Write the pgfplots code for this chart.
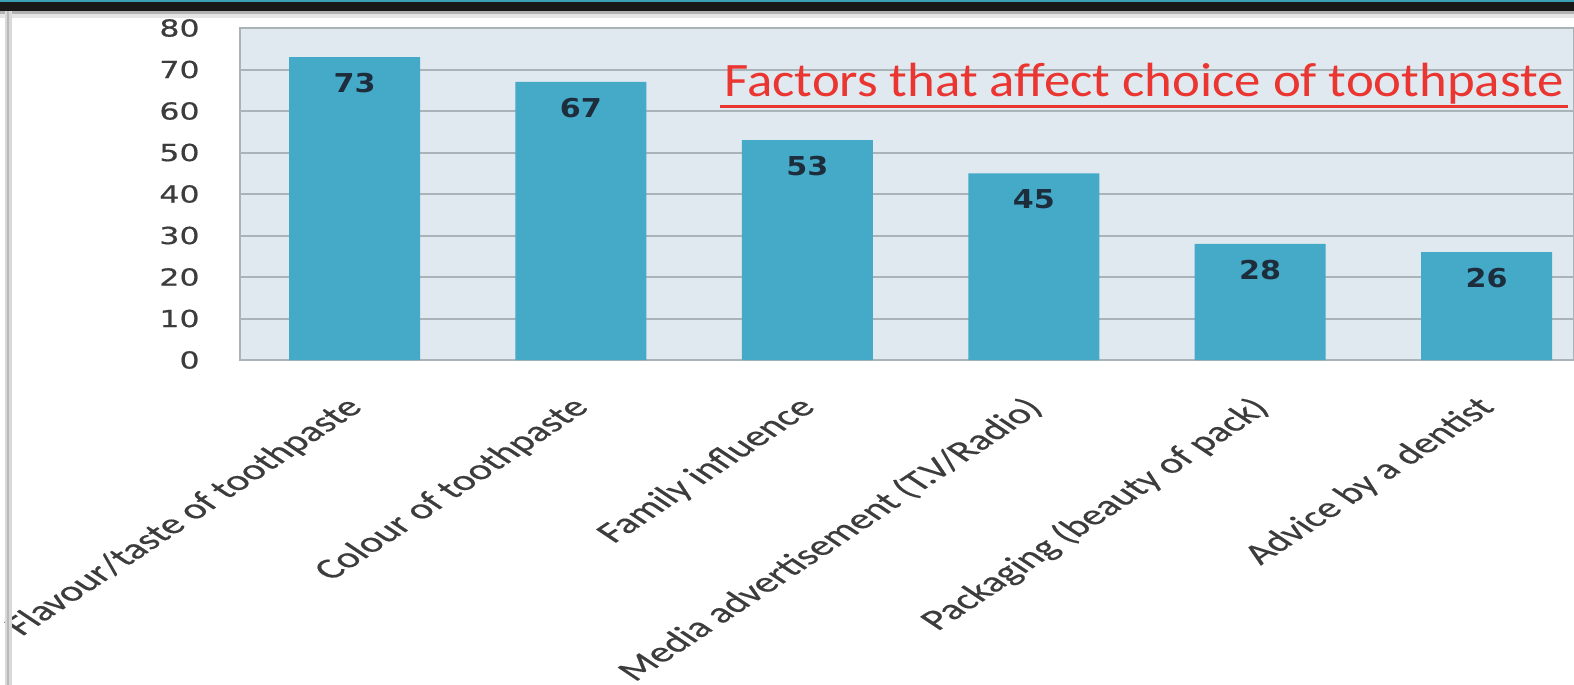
\documentclass[border=0pt]{standalone}
\usepackage{fontspec}
\setmainfont{Carlito}
\newfontfamily\tickfont[FakeStretch=1.35,FakeBold=0.6]{DejaVu Sans}
\newfontfamily\barfont[FakeStretch=1.16]{DejaVu Sans}
\newfontfamily\titlefont[FakeStretch=1.1]{Carlito}
\newfontfamily\labfont[FakeBold=0.4]{Carlito}
\usepackage{pgfplots}
\pgfplotsset{compat=1.18}
\definecolor{bg}{HTML}{DFE9EF}
\definecolor{barc}{HTML}{44AAC8}
\definecolor{gridc}{HTML}{AAB3B8}
\definecolor{titlered}{HTML}{EA3530}
\definecolor{labc}{HTML}{1E2D3C}
\definecolor{tickc}{HTML}{3C3C3C}
\definecolor{topteal}{HTML}{3AA0B5}
\begin{document}
\begin{tikzpicture}[x=1pt,y=1pt]
\clip (-120,-162.5) rectangle (667,180);
\fill[white] (-120,-162.5) rectangle (667,180);
\begin{axis}[at={(0,0)}, anchor=south west, scale only axis,
  width=667pt, height=166pt,
  xmin=-0.506, xmax=5.386, ymin=0, ymax=80,
  axis background/.style={fill=bg},
  axis line style={draw=gridc, line width=1pt},
  ytick={0,10,...,80}, ymajorgrids,
  grid style={draw=gridc, line width=1pt},
  major tick length=0pt,
  /pgf/number format/assume math mode=true,
  yticklabel style={font=\tickfont\fontsize{11.7}{12}\selectfont, text=tickc, anchor=east, inner sep=0pt, xshift=-20pt},
  xtick={0,...,5},
  xticklabels={Flavour/taste of toothpaste, Colour of toothpaste, Family influence, Media advertisement (T.V/Radio), Packaging (beauty of pack), Advice by a dentist},
  xticklabel style={font=\labfont\fontsize{14.5}{15}\selectfont, text=tickc, anchor=north east, inner sep=0pt, xshift=-6pt, yshift=-17pt, cm={1.0607,0.7071,-1.0607,0.7071,(0,0)}},
  ybar, bar width=65.5pt,
  nodes near coords align={below},
  every node near coord/.append style={font=\barfont\bfseries\fontsize{13}{14}\selectfont, text=labc, inner sep=0pt, yshift=-8pt},
]
\addplot[fill=barc, draw=none, nodes near coords] coordinates {(0,73) (1,67) (2,53) (3,45) (4,28) (5,26)};
\end{axis}
\node[font=\titlefont\fontsize{24}{26}\selectfont, text=titlered, anchor=base west, inner sep=0pt] (t) at (242,131.5) {Factors that affect choice of toothpaste};
\draw[titlered, line width=1.5pt] ([xshift=-2pt, yshift=-5pt]t.base west) -- ([xshift=2pt,yshift=-5pt]t.base east);
% frame decorations
\fill[topteal] (-120,179) rectangle (667,180);
\fill[black!90] (-120,174.5) rectangle (667,179);
\fill[gray!60] (-120,173) rectangle (667,174.5);
\fill[gray!20] (-120,171) rectangle (667,173);
\fill[gray!30] (-117.5,-162.5) rectangle (-114,174.5);
\fill[gray!55] (-116.5,-162.5) rectangle (-115.5,174.5);
\end{tikzpicture}
\end{document}
